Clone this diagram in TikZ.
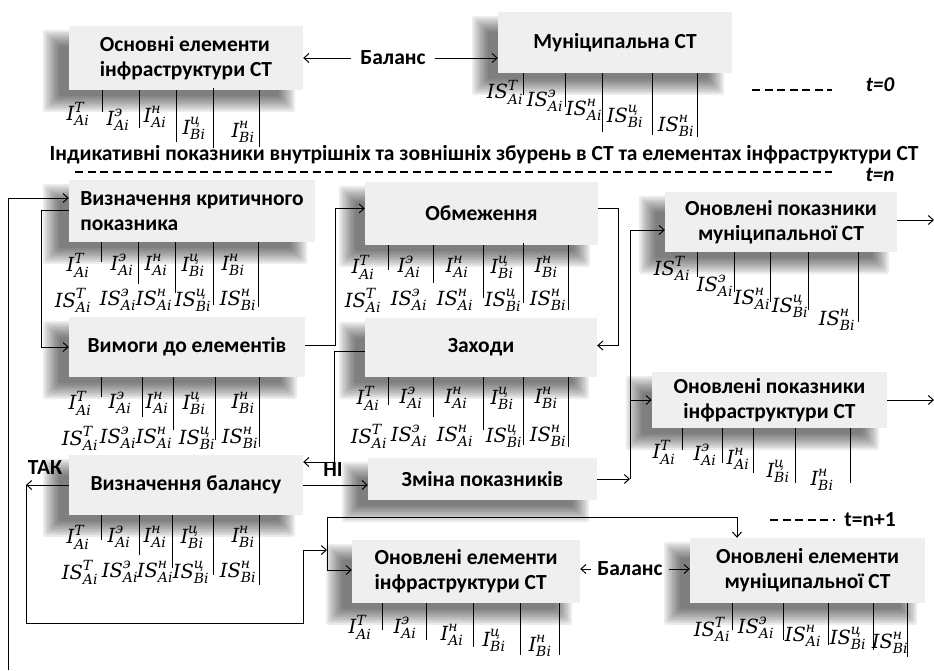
\documentclass[tikz,border=0pt]{standalone}
\usepackage{fontspec}
\setmainfont{Carlito}
\newfontfamily\ixfam{DejaVu Serif}
\usetikzlibrary{arrows.meta}
\pgfdeclarelayer{bg}
\pgfsetlayers{bg,main}
\definecolor{boxfill}{RGB}{239,239,239}
\newcommand\ixb{\ixfam\itshape\fontsize{19.5}{19.5}\selectfont}
\newcommand\ixs{\ixfam\itshape\fontsize{14}{14}\selectfont}
\newcommand\IX[3]{$\mbox{\ixb #1}^{\mbox{\ixs #2}}_{\mbox{\ixs #3}}$}
\tikzset{
  box/.style={fill=boxfill, inner sep=2pt, font=\bfseries\fontsize{21.5}{25}\selectfont},
  conn/.style={draw, line width=1pt, -{Straight Barb[length=5pt,width=9pt]}},
  plain/.style={draw, line width=1pt},
  bar/.style={draw, line width=1pt},
  lbl/.style={font=\bfseries\fontsize{21.5}{24}\selectfont, inner sep=2pt},
  tlbl/.style={font=\bfseries\itshape\fontsize{21}{24}\selectfont, inner sep=0pt},
  ix/.style={inner sep=0pt, font=\fontsize{19.5}{19.5}\selectfont},
  dsh/.style={draw, line width=1.2pt, dash pattern=on 8pt off 4.5pt},
  shd/.style={fill=black, opacity=0.075, rounded corners=3pt},
}
\begin{document}
\begin{tikzpicture}[x=1pt,y=-1pt]
\useasboundingbox (0,0) rectangle (934,670);
% boxes
\node[box, minimum width=234pt, minimum height=64pt, align=left] (b1) at (186,58) {Основні елементи\\інфраструктури СТ};
\node[box, minimum width=234pt, minimum height=61pt] (b2) at (615,42.5) {Муніципальна СТ};
\node[box, minimum width=246pt, minimum height=62pt, align=left] (b3) at (192,211) {Визначення критичного\\показника};
\node[box, minimum width=236pt, minimum height=60pt] (b4) at (187,347) {Вимоги до елементів};
\node[box, minimum width=234pt, minimum height=60pt] (b5) at (186,485) {Визначення балансу};
\node[box, minimum width=233pt, minimum height=63pt] (b6) at (481.5,213.5) {Обмеження};
\node[box, minimum width=232pt, minimum height=59pt] (b7) at (481,347.5) {Заходи};
\node[box, minimum width=229pt, minimum height=42pt] (b8) at (482.5,479) {Зміна показників};
\node[box, minimum width=232pt, minimum height=60pt, align=center] (b9) at (781,222) {Оновлені показники\\муніципальної СТ};
\node[box, minimum width=235pt, minimum height=56pt, align=center] (b10) at (769.5,400) {Оновлені показники\\інфраструктури СТ};
\node[box, minimum width=228pt, minimum height=63pt, align=left] (b11) at (466,571.5) {Оновлені елементи\\інфраструктури СТ};
\node[box, minimum width=235pt, minimum height=65pt, align=center] (b12) at (807.5,570.5) {Оновлені елементи\\муніципальної СТ};
% blurred shadows behind the boxes
\begin{pgfonlayer}{bg}
\foreach \k in {1,...,12}{
  \foreach \i in {0,...,8}{
    \pgfmathsetmacro\dd{9-2*\i}
    \fill[shd] ([shift={(-17-\dd,13-\dd)}]b\k.north west) rectangle ([shift={(-17+\dd,13+\dd)}]b\k.south east);
  }
}
\end{pgfonlayer}
% labels
\node[lbl, outer sep=7pt] (bal1) at (393,58) {Баланс};
\node[lbl, outer sep=4pt] (bal2) at (630,569) {Баланс};
\node[lbl] (hd) at (484,155) {Індикативні показники внутрішніх та зовнішніх збурень в СТ та елементах інфраструктури СТ};
\node[tlbl] (t0) at (880,85) {t=0};
\node[tlbl] (tn) at (880,175) {t=n};
\node[lbl] (tn1) at (870,520) {t=n+1};
\node[lbl] (tak) at (45,468) {ТАК};
\node[lbl] (ni) at (333,470) {НІ};
% dashed time lines
\coordinate (d0a) at (752,90); \coordinate (d0b) at (832,90);
\draw[dsh] (d0a) -- (d0b);
\coordinate (dna) at (75,172); \coordinate (dnb) at (832,172);
\draw[dsh] (dna) -- (dnb);
\coordinate (d1a) at (770,520); \coordinate (d1b) at (835,520);
\draw[dsh] (d1a) -- (d1b);
% connectors
\draw[conn] (bal1) -- (bal1 -| b1.east);
\draw[conn] (bal1) -- (bal1 -| b2.west);
\coordinate (lb) at (8,670);
\draw[conn] (lb) |- ([yshift=13pt]b3.west);
\draw[conn] ([yshift=1pt]b3.west) -- ++(-27,0) |- (b4.west);
\draw[conn] ([yshift=2pt]b4.east) -- ++(30,0) |- ([yshift=5pt]b6.west);
\draw[conn] ([yshift=5pt]b6.east) -- ++(20,0) |- ([yshift=2pt]b7.east);
\draw[conn] ([yshift=-4pt]b7.west) -- ++(-30,0) |- ([yshift=23pt]b5.east);
\draw[conn] (b5.east) -- (b5.east -| b8.west);
\coordinate (rv) at (630,479);
\coordinate (rt) at (630,230);
\draw[conn] (b8.east) -- (rv);
\draw[plain] (rv) -- (rt);
\draw[conn] (rt) -- (rt -| b9.west);
\draw[conn] (rt |- b10.west) -- (b10.west);
\coordinate (o1) at (934,220);
\coordinate (o2) at (934,400);
\draw[conn] (b9.east |- o1) -- (o1);
\draw[conn] (b10.east) -- (o2);
\coordinate (tk) at (26,485);
\coordinate (lo1) at (26,623);
\coordinate (lo2) at (303,623);
\coordinate (jm) at (327,550);
\draw[conn] (b5.west) -- (tk);
\draw[conn] (tk) -- (lo1) -- (lo2) |- (jm);
\coordinate (jt) at (327,517);
\coordinate (jb) at (327,570);
\coordinate (jr) at (737,517);
\draw[plain] (jt) -- (jb);
\draw[conn] (jb) -- (jb -| b11.west);
\draw[conn] (jt) -- (jr) -- (jr |- b12.north);
\draw[conn] (bal2) -- (bal2 -| b11.east);
\draw[conn] (bal2) -- (bal2 -| b12.west);
% index labels
\foreach \xx/\yy/\ss/\bb [count=\k] in {78/114/T/Ai,118/120/э/Ai,155/117/н/Ai,194/128/ц/Bi,243/132/н/Bi}
  \node[ix] (ga\k) at (\xx,\yy) {\IX{I}{\ss}{\bb}};
\foreach \xx/\yy/\ss/\bb [count=\k] in {505/92/T/Ai,545/101/э/Ai,584/110/н/Ai,625/116/ц/Bi,676/126/н/Bi}
  \node[ix] (gb\k) at (\xx,\yy) {\IX{IS}{\ss}{\bb}};
\foreach \xx/\ss/\bb [count=\k] in {78/T/Ai,122/э/Ai,156/н/Ai,193/ц/Bi,233/н/Bi}
  \node[ix] (gc\k) at (\xx,265) {\IX{I}{\ss}{\bb}};
\foreach \xx/\ss/\bb [count=\k] in {73/T/Ai,118/э/Ai,154/н/Ai,193/ц/Bi,238/н/Bi}
  \node[ix] (gcs\k) at (\xx,300) {\IX{IS}{\ss}{\bb}};
\foreach \xx/\ss/\bb [count=\k] in {80/T/Ai,120/э/Ai,157/н/Ai,194/ц/Bi,243/н/Bi}
  \node[ix] (gd\k) at (\xx,403) {\IX{I}{\ss}{\bb}};
\foreach \xx/\ss/\bb [count=\k] in {80/T/Ai,118/э/Ai,154/н/Ai,197/ц/Bi,240/н/Bi}
  \node[ix] (gds\k) at (\xx,438) {\IX{IS}{\ss}{\bb}};
\foreach \xx/\ss/\bb [count=\k] in {78/T/Ai,119/э/Ai,155/н/Ai,192/ц/Bi,243/н/Bi}
  \node[ix] (ge\k) at (\xx,537) {\IX{I}{\ss}{\bb}};
\foreach \xx/\ss/\bb [count=\k] in {80/T/Ai,120/э/Ai,155/н/Ai,191/ц/Bi,238/н/Bi}
  \node[ix] (ges\k) at (\xx,572) {\IX{IS}{\ss}{\bb}};
\foreach \xx/\ss/\bb [count=\k] in {363/T/Ai,409/э/Ai,457/н/Ai,502/ц/Bi,546/н/Bi}
  \node[ix] (gf\k) at (\xx,267) {\IX{I}{\ss}{\bb}};
\foreach \xx/\ss/\bb [count=\k] in {363/T/Ai,409/э/Ai,455/н/Ai,503/ц/Bi,548/н/Bi}
  \node[ix] (gfs\k) at (\xx,300) {\IX{IS}{\ss}{\bb}};
\foreach \xx/\ss/\bb [count=\k] in {368/T/Ai,411/э/Ai,456/н/Ai,502/ц/Bi,546/н/Bi}
  \node[ix] (gg\k) at (\xx,398) {\IX{I}{\ss}{\bb}};
\foreach \xx/\ss/\bb [count=\k] in {369/T/Ai,409/э/Ai,455/н/Ai,504/ц/Bi,548/н/Bi}
  \node[ix] (ggs\k) at (\xx,436) {\IX{IS}{\ss}{\bb}};
\foreach \xx/\yy/\ss/\bb [count=\k] in {672/268/T/Ai,715/286/э/Ai,752/299/н/Ai,790/306/ц/Bi,837/320/н/Bi}
  \node[ix] (gh\k) at (\xx,\yy) {\IX{IS}{\ss}{\bb}};
\foreach \xx/\yy/\ss/\bb [count=\k] in {664/452/T/Ai,705/455/э/Ai,738/459/н/Ai,778/471/ц/Bi,822/480/н/Bi}
  \node[ix] (gi\k) at (\xx,\yy) {\IX{I}{\ss}{\bb}};
\foreach \xx/\yy/\ss/\bb [count=\k] in {360/627/T/Ai,405/628/э/Ai,452/635/н/Ai,494/640/ц/Bi,540/646/н/Bi}
  \node[ix] (gj\k) at (\xx,\yy) {\IX{I}{\ss}{\bb}};
\foreach \xx/\yy/\ss/\bb [count=\k] in {712/629/T/Ai,756/628/э/Ai,803/636/н/Ai,848/638/ц/Bi,890/643/н/Bi}
  \node[ix] (gk\k) at (\xx,\yy) {\IX{IS}{\ss}{\bb}};
% bars
\foreach \xx/\ya/\yb in {102/90/112,139/90/128,176/90/142,213/88/148,259/90/147,
  523/73/95,565/73/107,602/73/132,652/73/135,697/73/137,
  101/242/262,138/242/284,175/242/293,213/242/305,258/242/307,
  101/377/397,142/377/417,173/377/430,215/377/440,259/377/447,
  101/515/540,139/515/555,172/515/568,213/515/575,259/515/585,
  388/245/270,433/245/283,483/245/298,523/243/303,568/245/310,
  388/377/405,433/377/417,483/377/430,523/377/445,568/377/447,
  697/252/277,734/252/292,770/252/302,808/252/310,858/252/322,
  682/428/450,722/428/463,753/428/473,795/428/483,850/428/483,
  382/603/630,426/603/640,473/603/647,520/603/655,559/603/655,
  732/603/630,783/603/640,828/603/645,873/603/650,907/603/657}
  \draw[bar] (\xx,\ya) -- (\xx,\yb);
\end{tikzpicture}
\end{document}
